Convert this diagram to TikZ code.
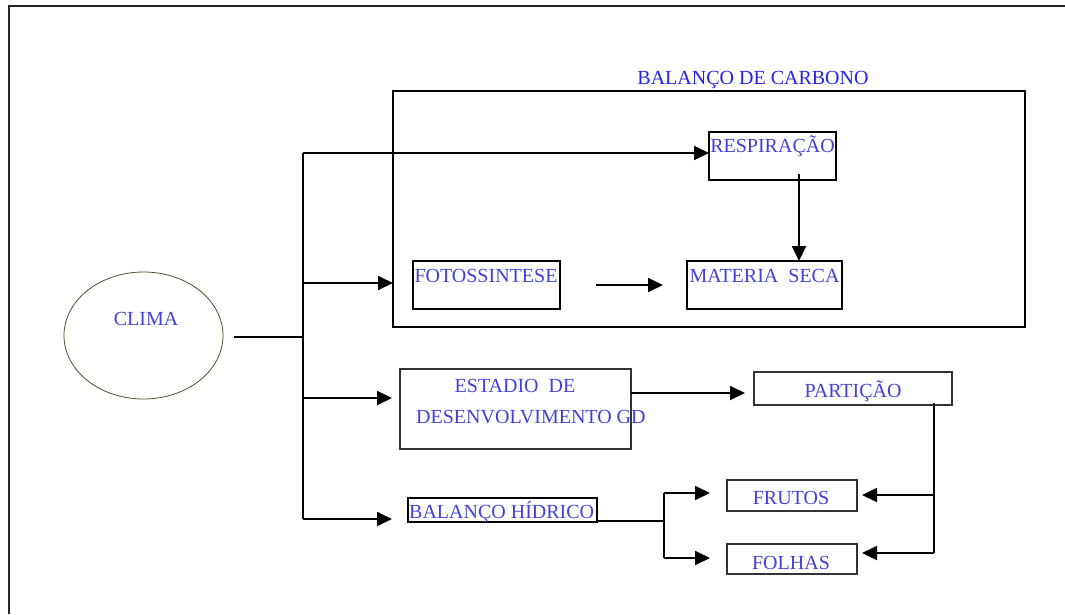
\documentclass[tikz,border=0pt]{standalone}
\usepackage{fontspec}
\setmainfont{Liberation Serif}
\usetikzlibrary{arrows.meta,shapes.geometric}
\definecolor{tb}{RGB}{65,65,215}
\definecolor{ttl}{RGB}{35,35,235}
\definecolor{ellc}{RGB}{80,80,40}
\begin{document}
\begin{tikzpicture}[x=1pt,y=-1pt,
  box/.style={draw=black, line width=1.8pt, inner sep=0pt, outer sep=0pt},
  thinbox/.style={draw=black!80, line width=1.1pt, inner sep=0pt, outer sep=0pt},
  lbl/.style={text=tb, font=\fontsize{20}{22}\selectfont, inner sep=0pt, anchor=base},
  lblw/.style={lbl, anchor=base west},
  ln/.style={line width=1.8pt},
  arr/.style={ln, -{Triangle[length=15pt,width=14pt]}}]
\useasboundingbox (0,0) rectangle (1065,614);
% outer frame
\draw[line width=2pt, black!85] (9,614) -- (9,6) -- (1066,6);

% boxes
\node[box, minimum width=632pt, minimum height=236pt] (carbon) at (709,209) {};
\node[box, minimum width=127pt, minimum height=48pt] (resp) at (772.5,156) {};
\node[box, minimum width=147pt, minimum height=48pt] (foto) at (486.5,285) {};
\node[box, minimum width=155pt, minimum height=48pt] (mat) at (764.5,285) {};
\node[thinbox, minimum width=231pt, minimum height=80pt] (estadio) at (515.5,409) {};
\node[thinbox, minimum width=198pt, minimum height=33pt] (part) at (853,388.5) {};
\node[thinbox, minimum width=130pt, minimum height=31pt] (frutos) at (792,495.5) {};
\node[thinbox, minimum width=130pt, minimum height=30pt] (folhas) at (792,559) {};
\node[box, line width=1.4pt, minimum width=189pt, minimum height=24pt] (bh) at (502.5,510) {};
\node[draw=ellc, line width=0.8pt, ellipse, minimum width=159pt, minimum height=127pt, inner sep=0pt] (clima) at (143.5,335.5) {};

% texts
\node[lbl, text=ttl] (ttitle) at (753,84) {BALANÇO DE CARBONO};
\node[lbl] (tresp) at (772.5,152) {RESPIRAÇÃO};
\node[lbl] (tfoto) at (486,282) {FOTOSSINTESE};
\node[lbl] (tmat) at (764.5,282) {MATERIA\ \ SECA};
\node[lbl] (tclima) at (146,325) {CLIMA};
\node[lbl] (test1) at (515,392) {ESTADIO\ \ DE};
\node[lblw] (test2) at (416,423) {DESENVOLVIMENTO GD};
\node[lbl] (tpart) at (853,397) {PARTIÇÃO};
\node[lbl] (tfrut) at (791,504) {FRUTOS};
\node[lbl] (tfolh) at (791,569) {FOLHAS};
\node[lblw] (tbh) at (409,518) {BALANÇO HÍDRICO};

% trunk from CLIMA
\coordinate (t0) at (303,337);
\coordinate (t1) at (303,153);
\coordinate (t2) at (303,283);
\coordinate (t3) at (303,398);
\coordinate (t4) at (303,519);
\draw[ln, shorten <=11pt] (clima.east |- t0) -- (t0);
\draw[ln] (t1) -- (t4);
\draw[arr] (t1) -- (t1 -| resp.west);
\draw[arr] (t2) -- (t2 -| carbon.west);
\draw[arr, shorten >=8pt] (t3) -- (t3 -| estadio.west);
\draw[arr, shorten >=16pt] (t4) -- (t4 -| bh.west);

% carbon balance inner
\draw[arr, shorten <=36pt, shorten >=24pt] (foto.east) -- (mat.west);
\coordinate (rd) at (799,174);
\draw[arr] (rd) -- (rd |- mat.north);

% estadio -> particao
\coordinate (e1) at (estadio.east |- 0,393);
\draw[arr, shorten >=9pt] (e1) -- (e1 -| part.west);

% particao -> frutos / folhas
\coordinate (p1) at (934,403);
\coordinate (p2) at (934,553);
\coordinate (p3) at (934,495);
\draw[ln] (p1) -- (p2);
\draw[arr, shorten >=5pt] (p3) -- (p3 -| frutos.east);
\draw[arr, shorten >=5pt] (p2) -- (p2 -| folhas.east);

% balanco hidrico -> frutos / folhas
\coordinate (b1) at (bh.east |- 0,521);
\coordinate (b2) at (664,521);
\coordinate (b3) at (664,493);
\coordinate (b4) at (664,558);
\draw[ln] (b1) -- (b2);
\draw[ln] (b3) -- (b4);
\draw[arr, shorten >=17pt] (b3) -- (b3 -| frutos.west);
\draw[arr, shorten >=17pt] (b4) -- (b4 -| folhas.west);
\end{tikzpicture}
\end{document}
